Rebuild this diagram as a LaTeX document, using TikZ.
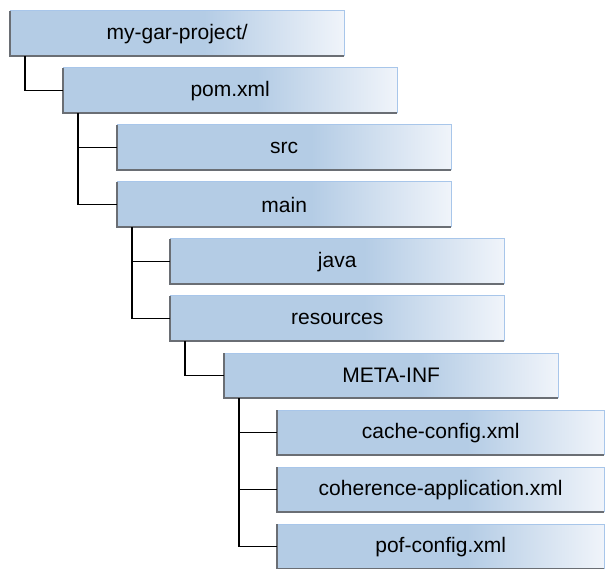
\documentclass[tikz,border=0pt]{standalone}
\usepackage{fontspec}
\setmainfont{Liberation Sans}
\definecolor{boxblue}{HTML}{B4CCE5}
\definecolor{boxwhite}{HTML}{F0F4FA}
\definecolor{edgedark}{HTML}{6A6E74}
\definecolor{edgelight}{HTML}{A8C6EA}
\pgfdeclarehorizontalshading{boxshade}{100bp}{color(0bp)=(boxblue); color(25bp)=(boxblue); color(54bp)=(boxblue); color(75bp)=(boxwhite); color(100bp)=(boxwhite)}
\tikzset{
  filebox/.style={rectangle, anchor=north west, minimum width=334pt, minimum height=45pt,
    inner sep=0pt, shading=boxshade, font=\fontsize{21}{25}\selectfont},
  lastbox/.style={filebox, minimum width=327pt},
  link/.style={draw=black, line width=1.5pt},
  edgetop/.style={draw=edgelight, line width=1pt},
  edgebot/.style={draw=edgedark, line width=2pt},
}
\begin{document}
\begin{tikzpicture}[x=1pt,y=-1pt]
\useasboundingbox (0,0) rectangle (605,569);
\clip (0,0) rectangle (605,569);
\node[filebox] (a) at (10,11) {my-gar-project/};
\node[filebox] (b) at (63,68) {pom.xml};
\node[filebox] (c) at (117,125) {src};
\node[filebox] (d) at (117,182) {main};
\node[filebox] (e) at (170,239) {java};
\node[filebox] (f) at (170,296) {resources};
\node[filebox] (g) at (224,353) {META-INF};
\node[lastbox] (h) at (277,410) {cache-config.xml};
\node[lastbox] (i) at (277,467) {coherence-application.xml};
\node[lastbox] (j) at (277,524) {pof-config.xml};
\foreach \n in {a,b,c,d,e,f,g,h,i,j}{
  \draw[edgetop] (\n.south east) -- (\n.north east) -- (\n.north west);
  \draw[edgebot] (\n.north west) -- (\n.south west) -- (\n.south east);
}
\draw[link] ([xshift=15pt]a.south west) |- (b.west);
\draw[link] ([xshift=15pt]b.south west) |- (c.west);
\draw[link] ([xshift=15pt]b.south west) |- (d.west);
\draw[link] ([xshift=15pt]d.south west) |- (e.west);
\draw[link] ([xshift=15pt]d.south west) |- (f.west);
\draw[link] ([xshift=15pt]f.south west) |- (g.west);
\draw[link] ([xshift=15pt]g.south west) |- (h.west);
\draw[link] ([xshift=15pt]g.south west) |- (i.west);
\draw[link] ([xshift=15pt]g.south west) |- (j.west);
\end{tikzpicture}
\end{document}
